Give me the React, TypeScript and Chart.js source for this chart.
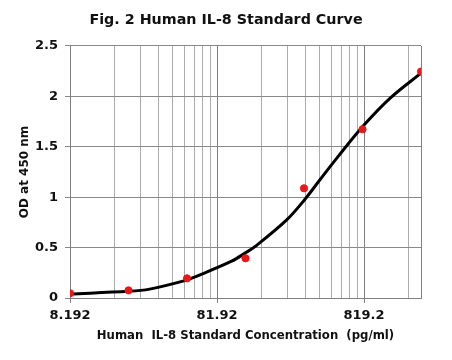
import React, { useEffect, useRef } from 'react';
import { Chart, registerables } from 'chart.js';

Chart.register(...registerables);

// Standard points (concentration in pg/ml, OD at 450 nm)
const concentrations = [8.192, 20.48, 51.2, 128, 320, 800, 2000];
const odValues = [0.047, 0.076, 0.195, 0.394, 1.088, 1.674, 2.246];

// Fitted standard curve
const curveX = [8.192, 20.48, 28.5, 49.4, 59.3, 103, 127, 150, 244, 325, 412, 540, 819.2, 1240, 2000];
const curveY = [0.04, 0.066, 0.088, 0.172, 0.215, 0.365, 0.445, 0.515, 0.775, 0.98, 1.175, 1.395, 1.715, 1.985, 2.23];

// Axis ticks
const xMajorTicks = [8.192, 81.92, 819.2];
const xMajorLabels = ['8.192', '81.92', '819.2'];
const xMinorMultipliers = [2, 3, 4, 5, 6, 7, 8, 9];
const xMin = 8.192;
const xMax = 2000;
const yMin = 0;
const yMax = 2.5;
const yStep = 0.5;

const FONT = '"DejaVu Sans", Verdana, sans-serif';

function buildXGrid() {
  const vals: number[] = [];
  xMajorTicks.forEach((m) => {
    vals.push(m);
    xMinorMultipliers.forEach((k) => {
      const v = m * k;
      if (v < xMax) vals.push(v);
    });
  });
  vals.push(xMax);
  return vals;
}

export default function App() {
  const canvasRef = useRef<HTMLCanvasElement | null>(null);

  useEffect(() => {
    document.body.style.margin = '0';
    const canvas = canvasRef.current;
    if (!canvas) return;
    const gridVals = buildXGrid();
    const isDark = (v: number) => xMajorTicks.includes(v) || v === xMax;
    const chart = new Chart(canvas, {
      type: 'scatter',
      data: {
        datasets: [
          {
            type: 'scatter',
            data: concentrations.map((x, i) => ({ x, y: odValues[i] })),
            backgroundColor: '#e8171a',
            borderColor: '#e8171a',
            pointRadius: 3.6,
            pointHoverRadius: 3.6,
            order: 0,
          },
          {
            type: 'line',
            data: curveX.map((x, i) => ({ x, y: curveY[i] })),
            borderColor: '#000000',
            borderWidth: 3,
            pointRadius: 0,
            fill: false,
            tension: 0.35,
            borderCapStyle: 'round',
            borderJoinStyle: 'round',
            order: 1,
          } as any,
        ],
      },
      options: {
        animation: false,
        responsive: false,
        events: [],
        layout: { padding: { left: 0, right: 0, top: 0, bottom: 0 } },
        plugins: {
          legend: { display: false },
          tooltip: { enabled: false },
          title: {
            display: true,
            text: 'Fig. 2 Human IL-8 Standard Curve',
            color: '#111',
            font: { family: FONT, size: 14.3, weight: 'bold', lineHeight: 1.2 },
            padding: { top: 12, bottom: 16.8 },
          },
        },
        scales: {
          x: {
            type: 'logarithmic',
            min: xMin,
            max: xMax,
            afterBuildTicks: (scale: any) => {
              scale.ticks = gridVals.map((v) => ({ value: v }));
            },
            afterFit: (scale: any) => {
              scale.height = 62;
            },
            ticks: {
              autoSkip: false,
              maxRotation: 0,
              padding: 5,
              color: '#111',
              font: { family: FONT, size: 13, weight: 'bold' },
              callback: (value: any) => {
                const idx = xMajorTicks.indexOf(value);
                return idx >= 0 ? xMajorLabels[idx] : '';
              },
            },
            grid: {
              color: (ctx: any) => (ctx.tick && isDark(ctx.tick.value) ? '#808080' : '#ababab'),
              tickColor: (ctx: any) => (ctx.tick && xMajorTicks.includes(ctx.tick.value) ? '#808080' : 'rgba(0,0,0,0)'),
              tickLength: 5,
              lineWidth: 1,
            },
            border: { display: true, color: '#808080' },
            title: {
              display: true,
              text: 'Human  IL-8 Standard Concentration  (pg/ml)',
              color: '#111',
              font: { family: FONT, size: 11.7, weight: 'bold', lineHeight: 1.2 },
              padding: { top: 4, bottom: 17 },
            },
          },
          y: {
            type: 'linear',
            min: yMin,
            max: yMax,
            afterFit: (scale: any) => {
              scale.width = 70;
            },
            ticks: {
              stepSize: yStep,
              padding: 7,
              color: '#111',
              font: { family: FONT, size: 13, weight: 'bold' },
              callback: (value: any) => String(Math.round(value * 10) / 10),
            },
            grid: {
              color: '#888888',
              tickColor: '#888888',
              tickLength: 5,
              lineWidth: 1,
            },
            border: { display: true, color: '#808080' },
            title: {
              display: true,
              text: 'OD at 450 nm',
              color: '#111',
              font: { family: FONT, size: 12, weight: 'bold', lineHeight: 1.2 },
              padding: { top: 18, bottom: 4 },
            },
          },
          yRight: {
            type: 'linear',
            position: 'right',
            display: true,
            min: yMin,
            max: yMax,
            afterFit: (scale: any) => {
              scale.width = 31;
            },
            ticks: { display: false },
            grid: { display: false, drawTicks: false },
            border: { display: false },
            title: { display: false },
          },
        },
      } as any,
    });
    return () => chart.destroy();
  }, []);

  return (
    <div style={{ width: 452, height: 360 }}>
      <canvas ref={canvasRef} width={452} height={360} />
    </div>
  );
}
